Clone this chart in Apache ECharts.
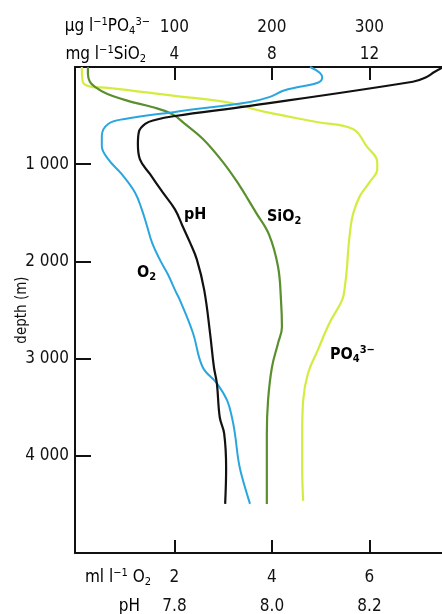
<!DOCTYPE html>
<html>
<head>
<meta charset="utf-8">
<script src="https://cdn.jsdelivr.net/npm/echarts@6/dist/echarts.min.js"></script>
<style>
  html, body { margin: 0; padding: 0; background: #fff; }
  #chart { width: 442px; height: 614px; }
</style>
</head>
<body>
<div id="chart"></div>
<script>
// depth in metres for each profile
const depthPH = [7, 49, 111, 152, 400, 504, 545, 586, 669, 793, 948, 1103, 1290, 1465, 1641, 1807, 1982, 2293, 2737, 3089, 3254, 3606, 3771, 4123, 4495];
const valuesPH = [8.349, 8.334, 8.314, 8.289, 7.955, 7.801, 7.760, 7.740, 7.727, 7.725, 7.729, 7.750, 7.776, 7.801, 7.817, 7.832, 7.846, 7.861, 7.873, 7.881, 7.887, 7.893, 7.902, 7.906, 7.904];

const depthO2 = [0, 59, 111, 162, 204, 245, 307, 359, 462, 535, 586, 710, 814, 948, 1103, 1290, 1465, 1641, 1807, 1982, 2137, 2293, 2396, 2737, 3089, 3254, 3430, 3606, 3771, 4123, 4495];
const valuesO2 = [4.78, 4.98, 5.03, 4.94, 4.57, 4.23, 3.96, 3.55, 2.01, 0.98, 0.64, 0.51, 0.51, 0.64, 0.92, 1.19, 1.33, 1.44, 1.54, 1.70, 1.87, 2.01, 2.11, 2.38, 2.58, 2.87, 3.08, 3.18, 3.24, 3.34, 3.55];

const depthSiO2 = [0, 69, 152, 204, 276, 348, 411, 483, 586, 741, 979, 1227, 1362, 1496, 1724, 2055, 2396, 2675, 2841, 3089, 3430, 3771, 4123, 4495];
const valuesSiO2 = [0.45, 0.45, 0.53, 0.74, 1.23, 2.09, 3.08, 3.90, 4.43, 5.17, 5.99, 6.69, 7.02, 7.34, 7.88, 8.25, 8.37, 8.41, 8.25, 8.00, 7.84, 7.79, 7.79, 7.79];

const depthPO4 = [0, 152, 204, 214, 297, 359, 462, 566, 638, 814, 979, 1052, 1186, 1331, 1517, 1703, 1910, 2055, 2241, 2396, 2634, 2913, 3151, 3430, 3771, 4123, 4464];
const valuesPO4 = [5, 6, 15, 32, 100, 152, 193, 246, 283, 297, 308, 308, 300, 290, 283, 280, 278, 277, 275, 272, 259, 247, 237, 232, 231, 231, 232];

const depthTicks = [1000, 2000, 3000, 4000];
const po4Ticks = [100, 200, 300];
const sio2Ticks = [4, 8, 12];
const o2Ticks = [2, 4, 6];
const phTicks = [7.8, 8.0, 8.2];

const FONT = '"Liberation Sans Narrow", "DejaVu Sans Condensed", "Liberation Sans", sans-serif';
const INK = '#111';

const zip = (vals, depths) => vals.map((v, i) => [v, depths[i]]);

// all four x scales share one pixel mapping: 1 unit = 100 ug PO4 = 4 mg SiO2 = 2 ml O2 = 0.2 pH
const U0 = -0.02, U1 = 3.744;

const rich = {
  n: { fontFamily: FONT, fontSize: 17, color: INK, lineHeight: 20 },
  b: { fontFamily: FONT, fontSize: 16, fontWeight: 'bold', color: INK, lineHeight: 20 },
  sup: { fontFamily: FONT, fontSize: 11, color: INK, lineHeight: 11, verticalAlign: 'top' },
  sub: { fontFamily: FONT, fontSize: 11, color: INK, lineHeight: 11, verticalAlign: 'bottom' },
  bsup: { fontFamily: FONT, fontSize: 11, fontWeight: 'bold', color: INK, lineHeight: 11, verticalAlign: 'top' },
  bsub: { fontFamily: FONT, fontSize: 11, fontWeight: 'bold', color: INK, lineHeight: 11, verticalAlign: 'bottom' }
};

function txt(x, y, text, align) {
  return {
    type: 'text', x: x, y: y, silent: true,
    style: { text: text, rich: rich, align: align, textAlign: align, verticalAlign: 'middle', textVerticalAlign: 'middle' }
  };
}

function labelOnly(position, offset, min, max, values, fmt) {
  return {
    type: 'value', position: position, offset: offset, min: min, max: max,
    axisLine: { show: false }, axisTick: { show: false }, splitLine: { show: false },
    axisLabel: { customValues: values, fontFamily: FONT, fontSize: 17, color: INK, margin: 5, formatter: fmt }
  };
}

function withLine(position, min, max, values, margin) {
  return {
    type: 'value', position: position, offset: 0, min: min, max: max,
    axisLine: { show: true, onZero: false, lineStyle: { color: INK, width: 2 } },
    axisTick: { show: true, inside: true, length: 13, customValues: values, lineStyle: { color: INK, width: 2 } },
    splitLine: { show: false },
    axisLabel: { customValues: values, fontFamily: FONT, fontSize: 17, color: INK, margin: margin }
  };
}

const chart = echarts.init(document.getElementById('chart'));

chart.setOption({
  animation: false,
  backgroundColor: '#fff',
  grid: { left: 75, right: 0, top: 67, bottom: 61, containLabel: false, outerBoundsMode: 'none' },
  xAxis: [
    labelOnly('top', 26, U0 * 100, U1 * 100, po4Ticks),
    withLine('top', U0 * 4, U1 * 4, sio2Ticks, 4),
    withLine('bottom', U0 * 2, U1 * 2, o2Ticks, 16),
    labelOnly('bottom', 40, 7.6 + U0 * 0.2, 7.6 + U1 * 0.2, phTicks, v => v.toFixed(1))
  ],
  yAxis: {
    type: 'value', inverse: true, min: 0, max: 5000,
    name: 'depth (m)', nameLocation: 'middle', nameGap: 45, nameMoveOverlap: false,
    nameTextStyle: { fontFamily: FONT, fontSize: 15, color: INK },
    axisLine: { show: true, onZero: false, lineStyle: { color: INK, width: 2 } },
    axisTick: { show: true, inside: true, length: 16, customValues: depthTicks, lineStyle: { color: INK, width: 2 } },
    splitLine: { show: false },
    axisLabel: {
      customValues: depthTicks, fontFamily: FONT, fontSize: 17, color: INK, margin: 6,
      formatter: v => String(v).replace(/\B(?=(\d{3})+$)/g, ' ')
    }
  },
  series: [
    {
      name: 'PO4', type: 'line', xAxisIndex: 0, data: zip(valuesPO4, depthPO4),
      showSymbol: false, smooth: 0.4, clip: false,
      lineStyle: { color: '#d4ec40', width: 2.2 }
    },
    {
      name: 'SiO2', type: 'line', xAxisIndex: 1, data: zip(valuesSiO2, depthSiO2),
      showSymbol: false, smooth: 0.4, clip: false,
      lineStyle: { color: '#5a8f2e', width: 2.2 }
    },
    {
      name: 'O2', type: 'line', xAxisIndex: 2, data: zip(valuesO2, depthO2),
      showSymbol: false, smooth: 0.4, clip: false,
      lineStyle: { color: '#2aa6df', width: 2 }
    },
    {
      name: 'pH', type: 'line', xAxisIndex: 3, data: zip(valuesPH, depthPH),
      showSymbol: false, smooth: 0.4, clip: false,
      lineStyle: { color: INK, width: 2.2 }
    }
  ],
  graphic: [
    txt(150, 27, '{n|µg l}{sup|−1}{n|PO}{sub|4}{sup|3−}', 'right'),
    txt(146, 55, '{n|mg l}{sup|−1}{n|SiO}{sub|2}', 'right'),
    txt(151, 578, '{n|ml l}{sup|−1}{n| O}{sub|2}', 'right'),
    txt(140, 607, '{n|pH}', 'right'),
    txt(184, 215, '{b|pH}', 'left'),
    txt(137, 273, '{b|O}{bsub|2}', 'left'),
    txt(267, 217, '{b|SiO}{bsub|2}', 'left'),
    txt(330, 355, '{b|PO}{bsub|4}{bsup|3−}', 'left')
  ]
});
</script>
</body>
</html>
